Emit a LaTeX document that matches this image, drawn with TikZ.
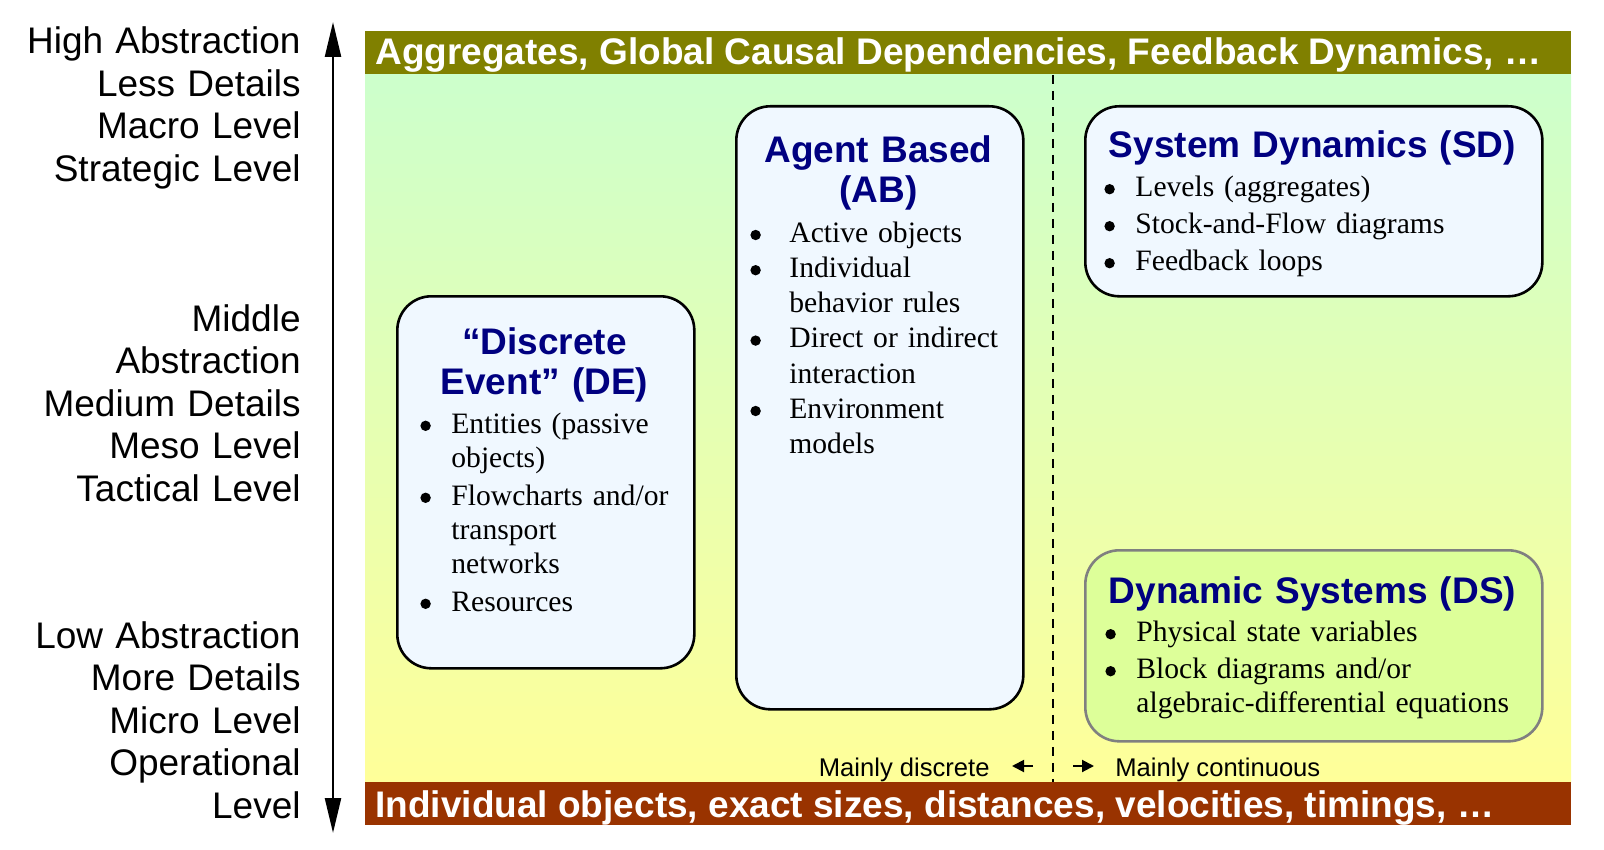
\documentclass[tikz,border=0pt]{standalone}
\usepackage{fontspec}
\setmainfont{Liberation Serif}
\setsansfont{Liberation Sans}
\usepackage{xcolor}
\definecolor{ink}{HTML}{000000}
\definecolor{topband}{HTML}{808000}
\definecolor{botband}{HTML}{993300}
\definecolor{macroc}{HTML}{CCFFCC}
\definecolor{microc}{HTML}{FFFF99}
\definecolor{boxfill}{HTML}{F0F8FF}
\definecolor{dsfill}{HTML}{DDFF99}
\definecolor{dsline}{HTML}{808080}
\definecolor{titlec}{HTML}{000080}
\usetikzlibrary{arrows.meta}

\newcommand{\dotmark}{\tikz[baseline=0pt]\fill[ink] (2.6pt,3.6pt) circle[radius=2.6pt];}
\newenvironment{bullets}[2]{\begin{list}{\dotmark}{\setlength{\leftmargin}{#1}\setlength{\labelwidth}{#1}\setlength{\labelsep}{0pt}\setlength{\itemsep}{#2}\setlength{\parsep}{0pt}\setlength{\topsep}{0pt}\setlength{\partopsep}{0pt}\renewcommand{\makelabel}[1]{##1\hfil}}}{\end{list}}

\begin{document}
\begin{tikzpicture}[x=0.5pt,y=-0.5pt,every node/.style={font=\sffamily}]
\tikzstyle{band}=[anchor=north west,inner sep=0pt,minimum width=603pt,minimum height=21.5pt]
\tikzstyle{bandtext}=[anchor=base west,inner sep=0pt,text=white,font=\sffamily\bfseries\fontsize{18.5}{22}\selectfont]
\tikzstyle{model}=[anchor=north west,draw=ink,line width=1.3pt,rounded corners=17pt,fill=boxfill]
\tikzstyle{title}=[anchor=base,inner sep=0pt,text width=220pt,align=center,text=titlec,font=\sffamily\bfseries\fontsize{18.5}{20}\selectfont]
\tikzstyle{items}=[anchor=base west,inner sep=0pt,text width=210pt,font=\rmfamily\fontsize{14.8}{17.2}\selectfont]
\tikzstyle{level}=[anchor=base east,inner sep=0pt,text width=160pt,align=right,font=\sffamily\fontsize{18.5}{21.25}\selectfont]
\tikzstyle{hint}=[inner sep=0pt,font=\sffamily\fontsize{12.8}{15}\selectfont]
\tikzstyle{pointer}=[-{Triangle[length=6pt,width=6pt]},line width=1pt,ink]
\useasboundingbox (0,0) rectangle (1604,850);

% field between the two bands
\shade[top color=macroc,bottom color=microc] (365,73) rectangle (1571,782);
\node[band,fill=topband] (macro) at (365,31) {};
\node[band,fill=botband] (micro) at (365,782) {};
\node[bandtext] (macrotxt) at (375,65) {Aggregates, Global Causal Dependencies, Feedback Dynamics, …};
\node[bandtext] (microtxt) at (375,817) {Individual objects, exact sizes, distances, velocities, timings, …};

% discrete | continuous
\coordinate (cut) at (1053,0);
\draw[ink,line width=1pt,dash pattern=on 4.5pt off 3.5pt] (cut |- macro.south) -- (cut |- micro.north);

% abstraction axis
\coordinate (up) at (333,22);
\coordinate (down) at (333,833);
\draw[{Triangle[length=17.5pt,width=8pt]}-{Triangle[length=17.5pt,width=8pt]},line width=1.2pt,ink] (up) -- (down);
\node[level] (high) at (301,54) {High Abstraction\\Less Details\\Macro Level\\Strategic Level};
\node[level] (mid) at (301,331) {Middle\\Abstraction\\Medium Details\\Meso Level\\Tactical Level};
\node[level] (low) at (301,648) {Low Abstraction\\More Details\\Micro Level\\Operational\\Level};

% the four approaches
\node[model,minimum width=148.5pt,minimum height=186pt] (de) at (396,295) {};
\node[model,minimum width=143.5pt,minimum height=301.5pt] (ab) at (735,105) {};
\node[model,minimum width=228.5pt,minimum height=95pt] (sd) at (1084,105) {};
\node[model,draw=dsline,fill=dsfill,minimum width=228.5pt,minimum height=95.5pt] (ds) at (1084,549) {};

\node[title] (detitle) at (544.5,354) {“Discrete\\Event” (DE)};
\node[title] (abtitle) at (878.5,163) {Agent Based\\(AB)};
\node[title] (sdtitle) at (1312.5,158) {System Dynamics (SD)};
\node[title] (dstitle) at (1312.5,603) {Dynamic Systems (DS)};

\node[items,font=\rmfamily\fontsize{14.8}{17}\selectfont] (delist) at (420,399) {\begin{bullets}{15.5pt}{2pt}
\item Entities (passive\\objects)
\item Flowcharts and/or\\transport\\networks
\item Resources
\end{bullets}};
\node[items,font=\rmfamily\fontsize{14.8}{17.6}\selectfont] (ablist) at (750,207) {\begin{bullets}{19.5pt}{0pt}
\item Active objects
\item Individual\\behavior rules
\item Direct or indirect\\interaction
\item Environment\\models
\end{bullets}};
\node[items] (sdlist) at (1104,162) {\begin{bullets}{15.5pt}{1.3pt}
\item Levels (aggregates)
\item Stock-and-Flow diagrams
\item Feedback loops
\end{bullets}};
\node[items] (dslist) at (1105,607) {\begin{bullets}{15.5pt}{1.3pt}
\item Physical state variables
\item Block diagrams and/or\\algebraic-differential equations
\end{bullets}};

% direction hints
\node[hint,anchor=base east] (disc) at (990,776) {Mainly discrete};
\node[hint,anchor=base west] (cont) at (1115,776) {Mainly continuous};
\coordinate (lft) at (1033,766);
\coordinate (rgt) at (1073,766);
\draw[pointer,shorten >=11pt] (lft) -- (lft -| disc.east);
\draw[pointer,shorten >=10.5pt] (rgt) -- (rgt -| cont.west);
\end{tikzpicture}
\end{document}
